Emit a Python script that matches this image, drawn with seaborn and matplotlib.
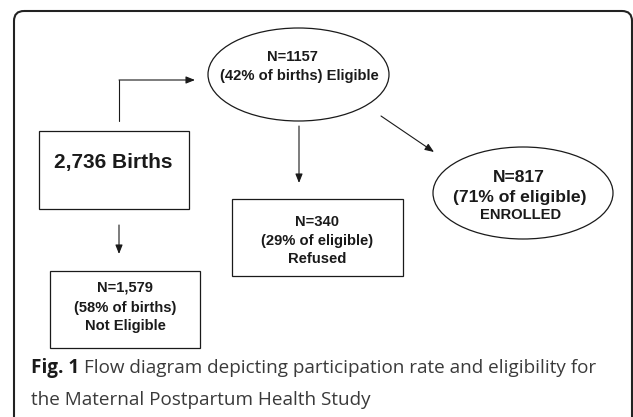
import matplotlib
matplotlib.use("Agg")
import matplotlib.pyplot as plt
import seaborn as sns
from matplotlib.patches import Rectangle, Ellipse, FancyBboxPatch

# ---- data ----
total_births = 2736
eligible_n = 1157
eligible_pct = 42
not_eligible_n = 1579
not_eligible_pct = 58
refused_n = 340
refused_pct = 29
enrolled_n = 817
enrolled_pct = 71
caption_bold = "Fig. 1"
caption_rest = ["Flow diagram depicting participation rate and eligibility for",
                "the Maternal Postpartum Health Study"]

sns.set_theme(style="white")
plt.rcParams['font.family'] = ['Liberation Sans', 'DejaVu Sans']

W, H = 633, 417
fig = plt.figure(figsize=(W / 100, H / 100), dpi=100)
ax = fig.add_axes([0, 0, 1, 1])
ax.set_xlim(0, W)
ax.set_ylim(H, 0)
ax.axis("off")

ink = "#1a1a1a"

# outer frame
frame = FancyBboxPatch((14, 11), 618, 420, boxstyle="round,pad=0,rounding_size=10",
                       fill=False, ec="#222222", lw=1.5, clip_on=True)
ax.add_patch(frame)

def box(x0, y0, x1, y1):
    ax.add_patch(Rectangle((x0, y0), x1 - x0, y1 - y0, fill=False, ec=ink, lw=0.9))

def ell(cx, cy, w, h):
    ax.add_patch(Ellipse((cx, cy), w, h, fill=False, ec=ink, lw=0.9))

def arrow(x0, y0, x1, y1):
    ax.annotate("", xy=(x1, y1), xytext=(x0, y0),
                arrowprops=dict(arrowstyle="-|>,head_length=0.45,head_width=0.18",
                                color=ink, lw=0.8, shrinkA=0, shrinkB=0))

def txt(x, y, s, size=10.5):
    ax.text(x, y, s, ha="center", va="center", fontsize=size, fontweight="bold", color=ink)

# Births box
box(39, 131, 189, 209)
txt(113, 162, f"{total_births:,} Births", size=15)

# arrow births -> eligible (elbow)
ax.plot([119, 119], [121, 80], color=ink, lw=0.8)
arrow(119, 80, 195, 80)

# eligible ellipse
ell(298.5, 74.5, 181, 93)
txt(292, 57, f"N={eligible_n}", size=10.6)
txt(299.5, 76, f"({eligible_pct}% of births) Eligible", size=10.6)

# arrow eligible -> refused
arrow(299, 126, 299, 183)
# refused box
box(232, 199, 403, 276)
txt(317.5, 222, f"N={refused_n}", size=10.6)
txt(317.5, 241, f"({refused_pct}% of eligible)", size=10.6)
txt(317.5, 259, "Refused", size=10.6)

# arrow eligible -> enrolled
arrow(381, 116, 434, 152)
ell(523, 193, 180, 92)
txt(519, 177, f"N={enrolled_n}", size=12.6)
txt(520, 197, f"({enrolled_pct}% of eligible)", size=12.6)
txt(521, 215, "ENROLLED", size=10.6)

# arrow births -> not eligible
arrow(119, 225, 119, 254)
box(50, 271, 200, 348)
txt(125, 288, f"N={not_eligible_n:,}", size=10.6)
txt(125, 308, f"({not_eligible_pct}% of births)", size=10.6)
txt(125, 326, "Not Eligible", size=10.6)

# caption
cap_font = ['Open Sans', 'DejaVu Sans']
tb = ax.text(31, 368, caption_bold, ha="left", va="center", fontsize=13.6,
             fontweight="bold", family=cap_font, color="#1a1a1a")
fig.canvas.draw()
bb = tb.get_window_extent(renderer=fig.canvas.get_renderer())
x_after = bb.x1 + 5  # pixels (display coords == pixels)
ax.text(x_after, 368, caption_rest[0], ha="left", va="center", fontsize=13.6,
        family=cap_font, color="#3a3a3a")
ax.text(31, 400, caption_rest[1], ha="left", va="center", fontsize=13.6,
        family=cap_font, color="#3a3a3a")

fig.savefig("out.png", dpi=100)
